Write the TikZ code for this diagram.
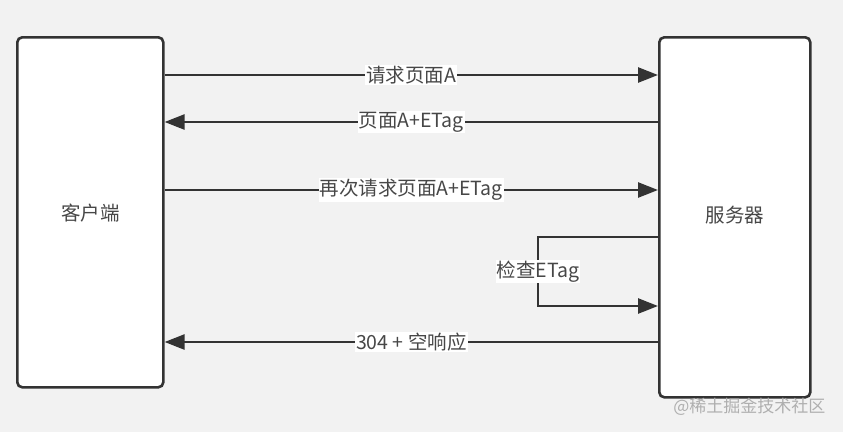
\documentclass[tikz,border=0pt]{standalone}
\usepackage{fontspec}
\setmainfont{Noto Sans CJK SC}
\usetikzlibrary{positioning, arrows.meta}
\definecolor{bgpage}{RGB}{242,242,242}
\definecolor{edge}{RGB}{51,51,51}
\definecolor{mark}{RGB}{175,175,175}

\begin{document}
\begin{tikzpicture}[
    x=1pt, y=1pt,
    >={Triangle[length=20pt, width=15pt]},
    party/.style={draw=edge, fill=white, rounded corners=5pt,
                  line width=2.6pt, font=\fontsize{19.5}{22}\selectfont,
                  text=edge!90},
    arr/.style={->, draw=edge, line width=2.6pt},
    lbl/.style={fill=white, inner sep=1pt, text=edge!90,
                font=\fontsize{19.5}{22}\selectfont},
]

% page
\fill[bgpage] (0,0) rectangle (843,-432);
\useasboundingbox (0,0) rectangle (843,-432);

% Client and server
\node[party, minimum width=146pt, minimum height=350pt, anchor=north west]
    (client) at (16,-36) {};
\node[text=edge!90, font=\fontsize{19.5}{22}\selectfont]
    at ([yshift=-177pt]client.north) {客户端};

\node[party, minimum width=151pt, minimum height=360pt, anchor=north west]
    (server) at (658,-36) {};
\node[text=edge!90, font=\fontsize{19.5}{22}\selectfont]
    at ([yshift=-179pt]server.north) {服务器};

% Messages
\draw[arr] ([yshift=-39pt]client.north east) -- ([yshift=-39pt]server.north west)
    node[lbl, midway] {请求页面A};
\draw[arr] ([yshift=-86pt]server.north west) -- ([yshift=-86pt]client.north east)
    node[lbl, midway] {页面A+ETag};
\draw[arr] ([yshift=-154pt]client.north east) -- ([yshift=-154pt]server.north west)
    node[lbl, midway] {再次请求页面A+ETag};

% Self check
\draw[arr] ([yshift=-201pt]server.north west) -- ++(-120pt,0)
    |- ([yshift=-270pt]server.north west)
    node[lbl, pos=0.25] {检查ETag};

\draw[arr] ([yshift=-306pt]server.north west) -- ([yshift=-306pt]client.north east)
    node[lbl, midway] {304 + 空响应};

% Watermark
\node[text=mark, font=\fontsize{17}{20}\selectfont, anchor=east]
    (wmark) at (829,-407) {@稀土掘金技术社区};

\end{tikzpicture}
\end{document}
